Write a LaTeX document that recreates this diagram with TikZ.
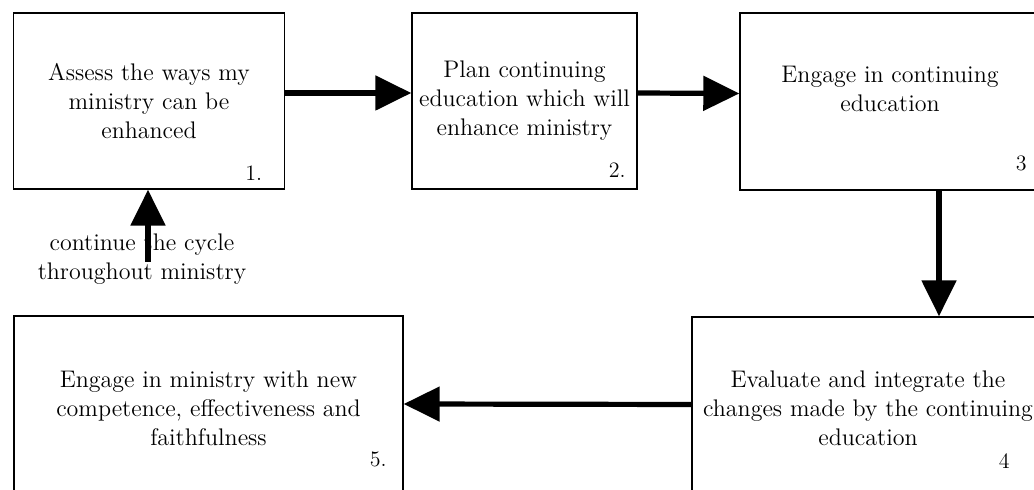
\documentclass[tikz,border=0pt]{standalone}
\usepackage{tikz}
\usetikzlibrary{arrows.meta}

\begin{document}
\begin{tikzpicture}[x=0.5pt, y=-0.5pt,
    boxtext/.style={align=center, font=\fontsize{12}{14.5}\selectfont},
    box/.style={boxtext, draw, line width=0.7pt, inner sep=0pt},
    flow/.style={line width=2.6pt, -{Triangle[length=18pt, width=17pt]}},
    num/.style={anchor=base east, font=\fontsize{11}{13}\selectfont}]
  \clip (0, 0) rectangle (1034, 490);

  % top row
  \node[box, minimum width=135.5pt, minimum height=88pt] (box1) at (149, 101)
    {Assess the ways my\\ministry can be\\enhanced};
  \node[box, minimum width=112.5pt, minimum height=88pt] (box2) at (524.5, 101)
    {Plan continuing\\education which will\\enhance ministry};
  \node[box, minimum width=150pt, minimum height=88.5pt] (box3) at (890, 101.5) {};
  \node[boxtext] at ([yshift=6.5pt]box3.center) {Engage in continuing\\education};

  % bottom row
  \node[box, minimum width=176pt, minimum height=91.5pt] (box4) at (868, 408.5)
    {Evaluate and integrate the\\changes made by the continuing\\education};
  \node[box, minimum width=194.5pt, minimum height=92pt] (box5) at (208.5, 408)
    {Engage in ministry with new\\competence, effectiveness and\\faithfulness};

  % step numbers
  \node[num] at ([shift={(-8pt,4.5pt)}]box1.south east) {1.};
  \node[num] at ([shift={(-2.5pt,6pt)}]box2.south east) {2.};
  \node[num] at ([shift={(-3.5pt,10pt)}]box3.south east) {3};
  \node[num] at ([shift={(-14pt,16pt)}]box4.south east) {4};
  \node[num] at ([shift={(-5pt,17pt)}]box5.south east) {5.};

  % arrows
  \draw[flow] ([yshift=4pt]box1.east) -- ([yshift=4pt]box2.west);
  \draw[flow] ([yshift=4pt]box2.east) -- ([yshift=4pt]box3.west);
  \draw[flow] ([xshift=24.5pt]box3.south) coordinate (down) -- (down |- box4.north);
  \draw[flow] ([yshift=2pt]box4.west) -- ([yshift=2pt]box5.east);

  \coordinate (cyc) at (148, 262);
  \draw[flow] (cyc) -- (cyc |- box1.south);
  \node[boxtext] (cycle) at (142, 259) {continue the cycle\\throughout ministry};
\end{tikzpicture}
\end{document}
